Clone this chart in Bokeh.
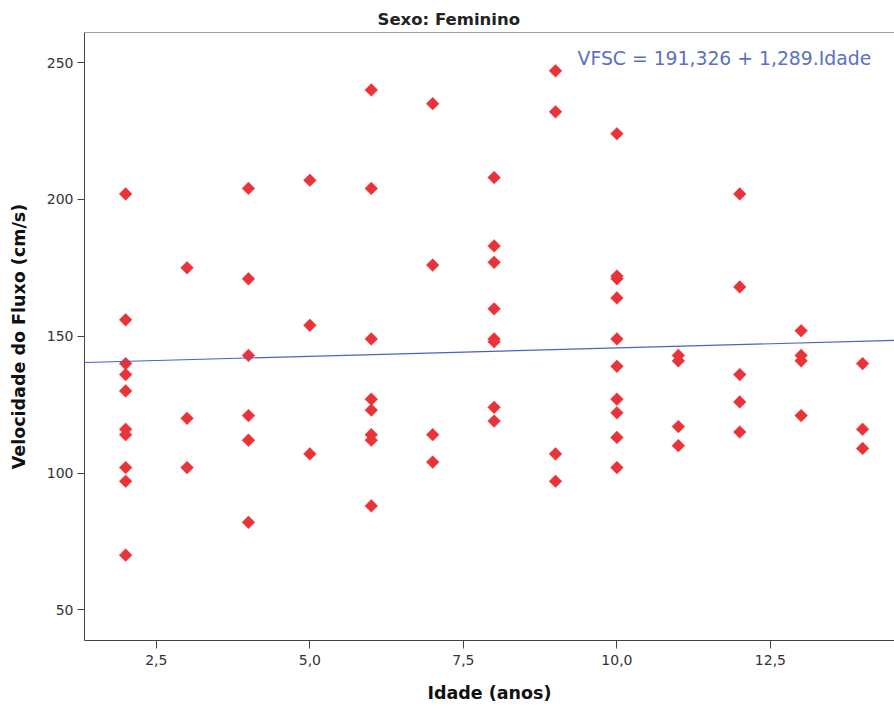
import math
from bokeh.plotting import figure
from bokeh.models import Label, CustomJSTickFormatter, FixedTicker, ColumnDataSource, Title, Span
from bokeh.embed import file_html
from bokeh.resources import INLINE

# Data
idade = [2, 2, 2, 2, 2, 2, 2, 2, 2, 2,
         3, 3, 3,
         4, 4, 4, 4, 4, 4,
         5, 5, 5,
         6, 6, 6, 6, 6, 6, 6, 6,
         7, 7, 7, 7,
         8, 8, 8, 8, 8, 8, 8, 8,
         9, 9, 9, 9,
         10, 10, 10, 10, 10, 10, 10, 10, 10, 10,
         11, 11, 11, 11,
         12, 12, 12, 12, 12,
         13, 13, 13, 13,
         14, 14, 14]
vfsc = [202, 156, 140, 136, 130, 116, 114, 102, 97, 70,
        175, 120, 102,
        204, 171, 143, 121, 112, 82,
        207, 154, 107,
        240, 204, 149, 127, 123, 114, 112, 88,
        235, 176, 114, 104,
        208, 183, 177, 160, 149, 148, 124, 119,
        247, 232, 107, 97,
        224, 172, 171, 164, 149, 139, 127, 122, 113, 102,
        143, 141, 117, 110,
        202, 168, 136, 126, 115,
        152, 143, 141, 121,
        140, 116, 109]

fit_x = [1.33, 14.52]
fit_y = [140.4, 148.5]

x_ticks = [2.5, 5.0, 7.5, 10.0, 12.5]
y_ticks = [50, 100, 150, 200, 250]

titulo = "Sexo: Feminino"
eq_text = "VFSC = 191,326 + 1,289.Idade"
x_label = "Idade (anos)"
y_label = "Velocidade do Fluxo (cm/s)"

FONT = "DejaVu Sans"
Y_END = 261

p = figure(width=894, height=709, x_range=(1.33, 14.52), y_range=(38.8, Y_END),
           output_backend="svg", toolbar_location=None,
           min_border_left=84, min_border_right=0, min_border_top=32, min_border_bottom=69)

p.title = Title(text=titulo, align="left", offset=293, text_font=FONT,
                text_font_size="16.5px", text_font_style="bold", text_color="#222222",
                standoff=7)

p.xgrid.visible = False
p.ygrid.visible = False
p.background_fill_color = "white"
p.border_fill_color = "white"
p.outline_line_color = None
p.add_layout(Span(location=Y_END, dimension="width", line_color="#444444", line_width=1))

src = ColumnDataSource(dict(x=idade, y=vfsc))
p.scatter("x", "y", source=src, marker="square", size=9, angle=math.pi / 4,
          fill_color="#ea3339", line_color="#ea3339", line_width=0.5)

p.line(fit_x, fit_y, line_color="#4862c0", line_width=1.1)

p.add_layout(Label(x=9.36, y=251.5, text=eq_text, text_font=FONT, text_font_size="18.8px",
                   text_color="#5b70c4", text_baseline="middle", text_align="left"))

for ax in (p.xaxis[0], p.yaxis[0]):
    ax.axis_line_color = "#444444"
    ax.major_tick_line_color = "#444444"
    ax.major_tick_in = 0
    ax.minor_tick_line_color = None
    ax.major_label_text_font = FONT
    ax.major_label_text_font_size = "14px"
    ax.major_label_text_color = "#333333"
    ax.axis_label_text_font = FONT
    ax.axis_label_text_font_size = "17.5px"
    ax.axis_label_text_font_style = "bold"
    ax.axis_label_text_color = "#111111"

p.xaxis[0].ticker = FixedTicker(ticks=x_ticks)
p.xaxis[0].formatter = CustomJSTickFormatter(code="return tick.toFixed(1).replace('.', ',');")
p.xaxis[0].major_tick_out = 8
p.xaxis[0].major_label_standoff = 6
p.xaxis[0].axis_label = x_label
p.xaxis[0].axis_label_standoff = 15

p.yaxis[0].ticker = FixedTicker(ticks=y_ticks)
p.yaxis[0].major_tick_out = 7
p.yaxis[0].major_label_standoff = 4
p.yaxis[0].axis_label = y_label
p.yaxis[0].axis_label_standoff = 15

open("out.html", "w").write(file_html(p, INLINE))
